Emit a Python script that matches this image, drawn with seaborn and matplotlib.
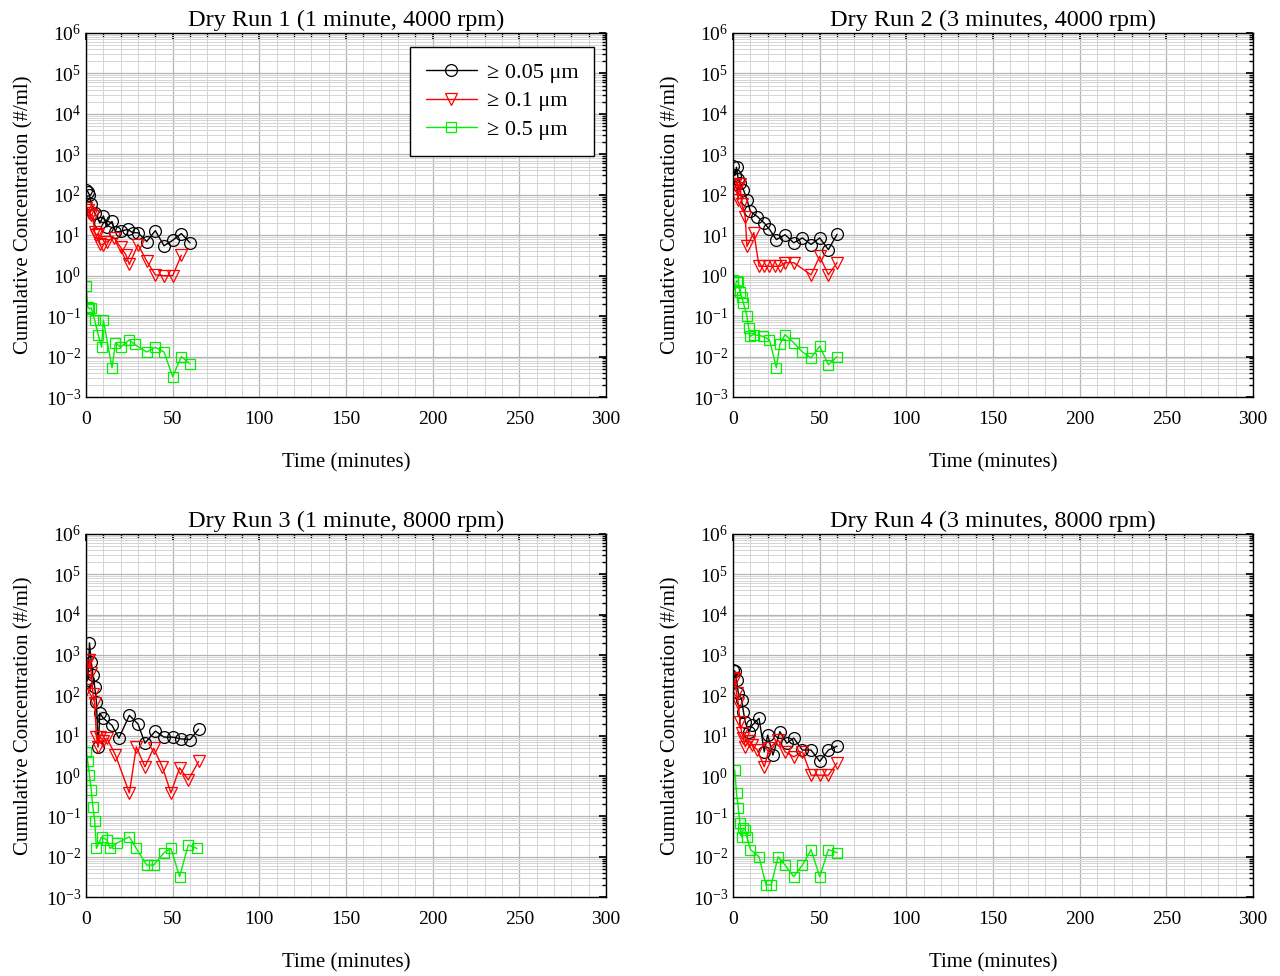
import matplotlib
matplotlib.use("Agg")
import matplotlib.pyplot as plt
import matplotlib.ticker as mticker
import numpy as np
import pandas as pd
import seaborn as sns

# --- Data (time in minutes, concentration in #/ml) ---
titles = ["Dry Run 1 (1 minute, 4000 rpm)", "Dry Run 2 (3 minutes, 4000 rpm)",
          "Dry Run 3 (1 minute, 8000 rpm)", "Dry Run 4 (3 minutes, 8000 rpm)"]
size_labels = ["\u2265 0.05 \u03bcm", "\u2265 0.1 \u03bcm", "\u2265 0.5 \u03bcm"]

# Dry Run 1
r1_t_005 = [0, 1, 2, 3, 5, 8, 10, 12, 15, 17, 20, 24, 27, 30, 35, 40, 45, 50, 55, 60]
r1_c_005 = [130, 120, 100, 60, 36, 20, 30, 16, 22, 12, 12.5, 14, 11.5, 11.5, 7, 13, 5.5, 7.5, 11, 6.5]
r1_t_01 = [0, 1, 2, 3, 4, 5, 6, 7, 8, 10, 12, 16, 20, 23, 25, 30, 35, 40, 45, 50, 55]
r1_c_01 = [48, 42, 35, 32, 30, 12, 10, 11, 6, 5.9, 7, 8.7, 5, 3.3, 1.9, 5.9, 2.3, 1.05, 1.0, 1.0, 3.2]
r1_t_05 = [0, 1, 2, 3, 5, 7, 9, 10, 15, 17, 20, 25, 28, 35, 40, 45, 50, 55, 60]
r1_c_05 = [0.55, 0.17, 0.15, 0.16, 0.08, 0.035, 0.017, 0.08, 0.0053, 0.022, 0.017, 0.026,
           0.02, 0.013, 0.017, 0.013, 0.0032, 0.01, 0.0066]

# Dry Run 2
r2_t_005 = [0, 1, 2, 3, 4, 6, 8, 10, 14, 18, 21, 25, 30, 35, 40, 45, 50, 55, 60]
r2_c_005 = [520, 300, 480, 240, 200, 134, 76, 39, 29, 20, 14, 7.8, 10.3, 6.5, 8.6, 5.9, 8.6, 4.4, 10.5]
r2_t_01 = [0, 1, 2, 3, 4, 5, 7, 8, 12, 15, 18, 21, 24, 27, 30, 35, 45, 50, 55, 60]
r2_c_01 = [180, 170, 150, 76, 190, 60, 29, 5.3, 11.6, 1.7, 1.7, 1.7, 1.7, 1.7, 2.1, 2.1, 1.05, 3.0, 1.05, 2.1]
r2_t_05 = [0, 1, 2, 3, 4, 5, 6, 8, 9, 10, 12, 17, 21, 25, 27, 30, 35, 40, 45, 50, 55, 60]
r2_c_05 = [0.8, 0.45, 0.75, 0.7, 0.4, 0.3, 0.21, 0.1, 0.05, 0.032, 0.035, 0.032, 0.026, 0.0053,
           0.02, 0.035, 0.022, 0.013, 0.0093, 0.018, 0.0063, 0.01]

# Dry Run 3
r3_t_005 = [0, 1, 2, 3, 4, 5, 6, 7, 8, 10, 15, 19, 25, 30, 34, 40, 45, 50, 55, 60, 65]
r3_c_005 = [220, 240, 2000, 680, 320, 163, 70, 5.3, 36, 27, 18, 8.7, 32, 19.5, 6.5, 13, 9.2, 9.2, 8.3, 8, 14.5]
r3_t_01 = [0, 1, 2, 3, 4, 5, 6, 7, 8, 10, 12, 17, 25, 29, 34, 39, 44, 49, 54, 59, 65]
r3_c_01 = [135, 750, 750, 360, 110, 64, 9.4, 5.3, 9.4, 7.5, 8.7, 3.3, 0.38, 5.3, 1.7, 4.9, 1.7, 0.38, 1.6, 0.8, 2.3]
r3_t_05 = [0, 1, 2, 3, 4, 5, 6, 9, 12, 14, 18, 25, 29, 35, 39, 45, 49, 54, 59, 64]
r3_c_05 = [4, 2.3, 1.05, 0.45, 0.17, 0.078, 0.016, 0.031, 0.026, 0.016, 0.022, 0.031, 0.016,
           0.0062, 0.0062, 0.0125, 0.016, 0.0032, 0.0195, 0.016]

# Dry Run 4
r4_t_005 = [0, 1, 2, 3, 5, 6, 7, 9, 11, 15, 18, 20, 23, 27, 31, 35, 40, 45, 50, 55, 60]
r4_c_005 = [425, 400, 240, 115, 76, 39, 22, 12.6, 18, 27, 4, 10.4, 3.3, 12.6, 6.5, 8.7, 4.4, 4.4, 2.3, 4.4, 5.5]
r4_t_01 = [0, 1, 2, 3, 4, 5, 6, 7, 9, 11, 14, 18, 21, 26, 30, 35, 40, 45, 50, 55, 60]
r4_c_01 = [270, 250, 115, 65, 22, 11.6, 8.7, 5.3, 7.5, 6, 4.4, 1.7, 4.9, 7.8, 4, 3, 4, 1.05, 1.05, 1.05, 2.1]
r4_t_05 = [1, 2, 3, 4, 5, 6, 7, 8, 10, 15, 19, 22, 26, 30, 35, 40, 45, 50, 55, 60]
r4_c_05 = [1.4, 0.37, 0.16, 0.067, 0.031, 0.051, 0.047, 0.031, 0.015, 0.01, 0.002, 0.002, 0.01,
           0.0062, 0.0032, 0.0062, 0.015, 0.0032, 0.015, 0.0126]

runs = [
    [(r1_t_005, r1_c_005), (r1_t_01, r1_c_01), (r1_t_05, r1_c_05)],
    [(r2_t_005, r2_c_005), (r2_t_01, r2_c_01), (r2_t_05, r2_c_05)],
    [(r3_t_005, r3_c_005), (r3_t_01, r3_c_01), (r3_t_05, r3_c_05)],
    [(r4_t_005, r4_c_005), (r4_t_01, r4_c_01), (r4_t_05, r4_c_05)],
]

colors = ["#000000", "#ff0000", "#00f000"]
markers = ["o", "v", "s"]
msizes = [8.5, 8.5, 7.5]

sns.set_theme(style="white")
plt.rcParams["font.family"] = ["Liberation Serif", "DejaVu Serif"]
plt.rcParams["mathtext.fontset"] = "stix"
plt.rcParams["text.color"] = "black"
plt.rcParams["axes.labelcolor"] = "black"
plt.rcParams["xtick.color"] = "black"
plt.rcParams["ytick.color"] = "black"

fig = plt.figure(figsize=(12.8, 9.76), dpi=100)
positions = [
    [0.0672, 0.5932, 0.4062, 0.3730],
    [0.5727, 0.5932, 0.4062, 0.3730],
    [0.0672, 0.0809, 0.4062, 0.3720],
    [0.5727, 0.0809, 0.4062, 0.3720],
]

for i, (pos, title, series) in enumerate(zip(positions, titles, runs)):
    ax = fig.add_axes(pos)
    for (t, c), label, col, mk, ms in zip(series, size_labels, colors, markers, msizes):
        df = pd.DataFrame({"time": t, "conc": c})
        sns.lineplot(data=df, x="time", y="conc", ax=ax, color=col, marker=mk,
                     markersize=ms, markerfacecolor="none", markeredgecolor=col,
                     markeredgewidth=0.9, linewidth=1.0, label=label,
                     estimator=None, sort=False)

    ax.set_yscale("log")
    ax.set_xlim(0, 300)
    ax.set_ylim(1e-3, 1e6)
    ax.xaxis.set_major_locator(mticker.MultipleLocator(50))
    ax.xaxis.set_minor_locator(mticker.MultipleLocator(10))
    ax.yaxis.set_major_locator(mticker.LogLocator(base=10, numticks=20))
    ax.yaxis.set_minor_locator(mticker.LogLocator(base=10, subs=np.arange(2, 10), numticks=20))
    ax.yaxis.set_major_formatter(mticker.LogFormatterMathtext())
    ax.yaxis.set_minor_formatter(mticker.NullFormatter())

    ax.grid(True, which="major", color="#b4b4b4", linewidth=0.9)
    ax.grid(True, which="minor", color="#d4d4d4", linewidth=0.7)
    ax.set_axisbelow(True)
    ax.tick_params(which="both", direction="in", top=True, right=True, colors="black")
    ax.tick_params(which="major", length=5, labelsize=14)
    ax.tick_params(which="minor", length=3)
    ax.tick_params(axis="x", which="major", pad=10)
    for sp in ax.spines.values():
        sp.set_color("black")
        sp.set_linewidth(1.0)

    ax.set_title(title, fontsize=17.5, pad=5, color="black")
    ax.set_xlabel("Time (minutes)", fontsize=15, labelpad=18)
    ax.set_ylabel("Cumulative Concentration (#/ml)", fontsize=15, labelpad=9)

    if i == 0:
        leg = ax.legend(loc="upper right", bbox_to_anchor=(0.977, 0.962), borderaxespad=0,
                        fontsize=16, frameon=True, fancybox=False, edgecolor="black",
                        framealpha=1, handlelength=2.3, handletextpad=0.45,
                        borderpad=0.7, labelspacing=0.36)
        leg.get_frame().set_linewidth(1.0)
    else:
        ax.get_legend().remove()

fig.savefig("out.png", dpi=100)
